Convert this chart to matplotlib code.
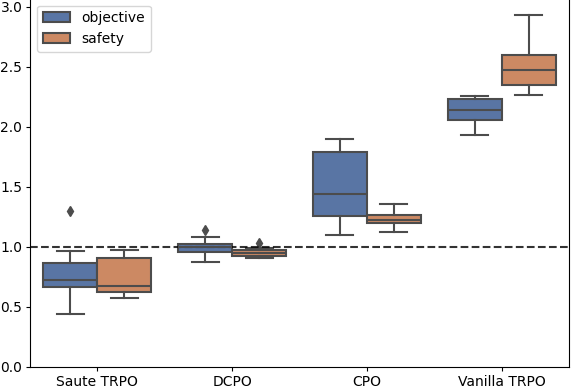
import colorsys
import numpy as np
import matplotlib
matplotlib.use("Agg")
import matplotlib.pyplot as plt
from matplotlib.patches import Patch

methods = ['Saute TRPO', 'DCPO', 'CPO', 'Vanilla TRPO']
hues = ['objective', 'safety']

# box statistics
obj_med = [0.725, 1.00, 1.444, 2.144]
obj_q1 = [0.669, 0.958, 1.258, 2.061]
obj_q3 = [0.869, 1.028, 1.790, 2.233]
obj_lo = [0.442, 0.875, 1.100, 1.930]
obj_hi = [0.969, 1.086, 1.900, 2.258]
obj_fliers = [[1.30], [1.14], [], []]

saf_med = [0.675, 0.950, 1.228, 2.478]
saf_q1 = [0.628, 0.925, 1.203, 2.350]
saf_q3 = [0.908, 0.972, 1.264, 2.603]
saf_lo = [0.572, 0.911, 1.125, 2.267]
saf_hi = [0.978, 0.990, 1.360, 2.933]
saf_fliers = [[], [1.03], [], []]


def desat(hexcol, prop=0.75):
    rgb = matplotlib.colors.to_rgb(hexcol)
    h, l, s = colorsys.rgb_to_hls(*rgb)
    return colorsys.hls_to_rgb(h, l, s * prop)


colors = [desat('#4C72B0'), desat('#DD8452')]
lum = min(colorsys.rgb_to_hls(*c)[1] for c in colors) * 0.6
gray = (lum, lum, lum)

plt.rcParams['xtick.major.size'] = 3
plt.rcParams['ytick.major.size'] = 3
plt.rcParams['xtick.major.pad'] = 3
plt.rcParams['ytick.major.pad'] = 2.5

fig = plt.figure(figsize=(5.72, 3.86), dpi=100)
ax = fig.add_axes([30 / 572, 19 / 386, 539 / 572, 368.4 / 386])

series = [
    (obj_med, obj_q1, obj_q3, obj_lo, obj_hi, obj_fliers),
    (saf_med, saf_q1, saf_q3, saf_lo, saf_hi, saf_fliers),
]
for j, (med, q1, q3, lo, hi, fl) in enumerate(series):
    stats = []
    for i in range(len(methods)):
        stats.append(dict(med=med[i], q1=q1[i], q3=q3[i], whislo=lo[i],
                          whishi=hi[i], fliers=fl[i]))
    pos = np.arange(len(methods)) - 0.2 + 0.4 * j
    ax.bxp(stats, positions=pos, widths=0.4, patch_artist=True,
           boxprops=dict(facecolor=colors[j], edgecolor=gray, linewidth=1.5),
           whiskerprops=dict(color=gray, linewidth=1.5),
           capprops=dict(color=gray, linewidth=1.5),
           medianprops=dict(color=gray, linewidth=1.5),
           flierprops=dict(marker='d', markerfacecolor=gray, markeredgecolor=gray,
                           markersize=5, linestyle='none'),
           manage_ticks=False)

ax.axhline(1.0, color='k', linestyle='--', linewidth=1.5, alpha=0.8)

ax.set_xticks(np.arange(len(methods)))
ax.set_xticklabels(methods)
ax.set_xlim(-0.5, 3.5)
ax.set_ylim(0, 3.07)
ax.set_yticks([0.0, 0.5, 1.0, 1.5, 2.0, 2.5, 3.0])

handles = [Patch(facecolor=colors[k], edgecolor=gray, linewidth=1.5, label=hues[k])
           for k in range(2)]
ax.legend(handles=handles, loc='upper left')

fig.savefig('out.png', dpi=100)
